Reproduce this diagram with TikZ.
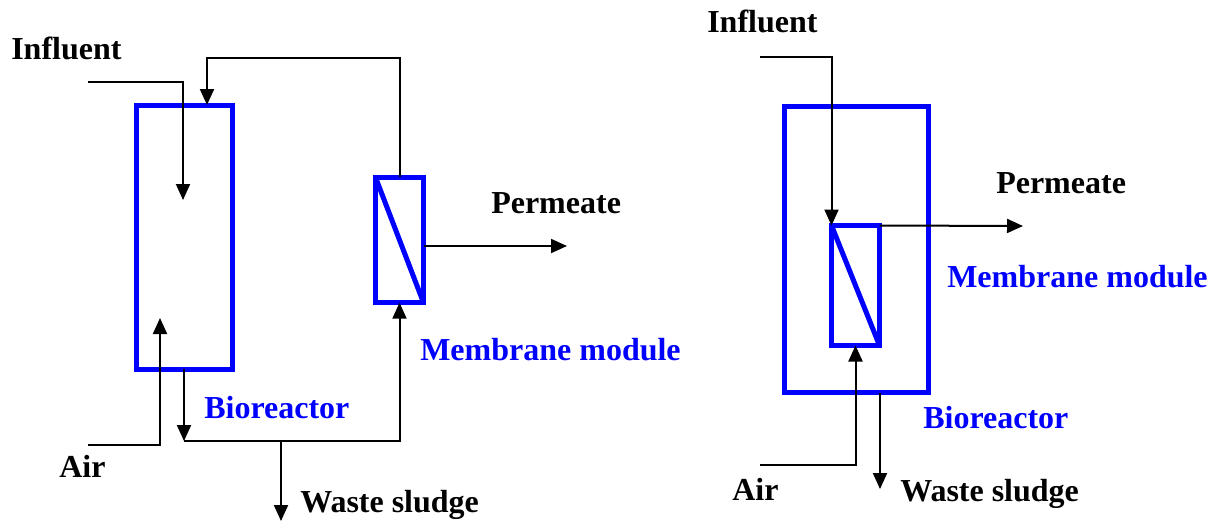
\documentclass[tikz,border=0pt]{standalone}
\usepackage{fontspec}
\setmainfont{Liberation Serif}
\usetikzlibrary{positioning}
\usetikzlibrary{calc}
\usetikzlibrary{arrows.meta}
\definecolor{boxblue}{RGB}{0,0,255}
\tikzset{
    tank/.style={draw=boxblue, line width=3.75pt, rectangle, inner sep=0pt, outer sep=0pt},
    flow/.style={line width=1.5pt, -{Triangle[length=12pt,width=10.5pt]}},
    pipe/.style={line width=1.5pt},
    lbl/.style={font=\fontsize{24}{28}\selectfont\bfseries, anchor=base west, inner sep=0pt},
}
\begin{document}
\begin{tikzpicture}[x=0.75pt, y=-0.75pt]
    \useasboundingbox (0,0) rectangle (1220,522);

    % side-stream layout
    \node[tank, minimum width=72pt, minimum height=198pt] (reactorA) at (184,237) {};
    \node[tank, minimum width=36pt, minimum height=94pt] (modA) at (399.5,240) {};
    \draw[draw=boxblue, line width=3.75pt] (modA.north west) -- (modA.south east);

    \coordinate (inA) at (88,82);
    \coordinate (inAend) at (183,200);
    \coordinate (recTop) at (207,58);
    \coordinate (permA) at (567,246);
    \coordinate (airA) at (88,445);
    \coordinate (airAend) at (160,318);
    \coordinate (jA) at (184,441);
    \coordinate (wasteA) at (281,521);

    \draw[flow] (inA) -| (inAend);
    \draw[flow] (modA.north) |- (recTop) -- (recTop |- reactorA.north);
    \draw[flow] (permA -| modA.east) -- (permA);
    \draw[flow] (airA) -| (airAend);
    \draw[flow] (reactorA.south) -- (jA);
    \draw[flow] (jA) -| (modA.south);
    \draw[flow] (wasteA |- jA) -- (wasteA);

    \node[lbl] (txtInA) at (11,59) {Influent};
    \node[lbl] (txtPermA) at (491,213) {Permeate};
    \node[lbl, boxblue] (txtModA) at (420,360) {Membrane module};
    \node[lbl, boxblue] (txtReacA) at (204,418) {Bioreactor};
    \node[lbl] (txtAirA) at (59,477) {Air};
    \node[lbl] (txtWasteA) at (300,512) {Waste sludge};

    % submerged layout
    \node[tank, minimum width=108pt, minimum height=215pt] (reactorB) at (856,249.5) {};
    \node[tank, minimum width=36pt, minimum height=90pt] (modB) at (855.5,285.5) {};
    \draw[draw=boxblue, line width=3.75pt] (modB.north west) -- (modB.south east);

    \coordinate (inB) at (760,57);
    \coordinate (permB) at (1023,226);
    \coordinate (airB) at (760,465);
    \coordinate (wasteB) at (880,489);

    \draw[flow] (inB) -| (modB.north west);
    \draw[flow] (modB.north east) -- (permB);
    \draw[flow] (airB) -| (modB.south);
    \draw[flow] (wasteB |- reactorB.south) -- (wasteB);

    \node[lbl] (txtInB) at (707,32) {Influent};
    \node[lbl] (txtPermB) at (996,193) {Permeate};
    \node[lbl, boxblue] (txtModB) at (947,287) {Membrane module};
    \node[lbl, boxblue] (txtReacB) at (923,428) {Bioreactor};
    \node[lbl] (txtAirB) at (732,500) {Air};
    \node[lbl] (txtWasteB) at (900,501) {Waste sludge};
\end{tikzpicture}
\end{document}
